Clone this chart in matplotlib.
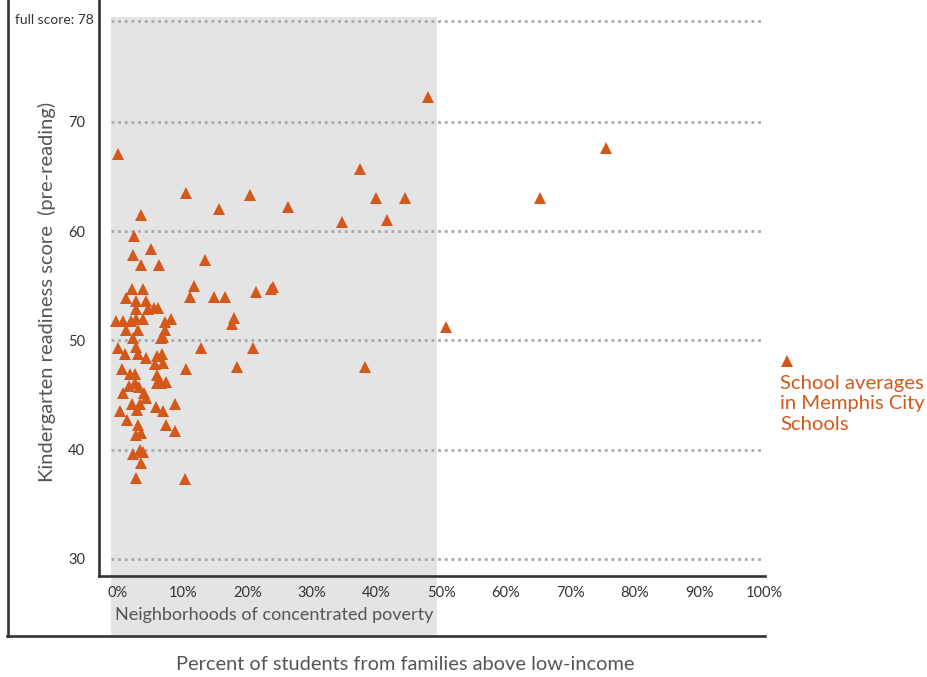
import matplotlib
matplotlib.use("Agg")
import matplotlib.pyplot as plt
from matplotlib.lines import Line2D
from matplotlib.patches import Rectangle
from matplotlib.transforms import blended_transform_factory

plt.rcParams['font.family'] = ['Lato', 'DejaVu Sans']

# ---- data (percent of students above low-income, readiness score) ----
pct_above_low_income = [
    0.0, 10.6, 20.4, 15.6, 26.3, 37.4, 39.9, 44.4, 34.6, 41.6,
    13.4, 11.7, 11.1, 14.8, 16.5, 21.3, 23.7, 24.0, 17.9, 17.6,
    50.8, 12.8, 20.9, 10.6, 18.4, 38.2, 8.9, 7.5, 8.9, 10.4,
    7.0, 8.2, 7.3, 7.3, 6.9, 6.8, 6.9, 7.5, 6.7,
    48.0, 65.3, 75.5,
    3.6, 2.5, 2.3, 5.1, 3.6, 6.4,
    2.2, 3.8, 1.3, 2.8, 4.4, 2.8, 4.7, 5.5, 6.2,
    -0.3, 0.8, 2.0, 2.8, 3.9, 1.3, 3.1, 2.3, 6.7,
    0.05, 2.8, 1.1, 3.1, 4.4, 6.1, 5.7,
    0.6, 1.9, 2.6, 6.1, 6.1, 1.7, 2.6, 3.3, 0.8, 4.0, 4.4,
    2.2, 3.4, 5.9, 0.3, 3.0, 1.4, 3.1, 2.8, 3.6,
    3.4, 3.9, 2.3, 3.6, 2.8,
]
readiness_score = [
    67.1, 63.5, 63.3, 62.0, 62.25, 65.7, 63.0, 63.0, 60.8, 61.06,
    57.4, 54.96, 53.98, 53.98, 53.98, 54.47, 54.7, 54.9, 52.03, 51.5,
    51.26, 49.34, 49.34, 47.4, 47.6, 47.6, 44.2, 42.3, 41.7, 37.35,
    43.5, 52.0, 51.7, 50.96, 50.35, 48.8, 47.9, 46.2, 46.1,
    72.3, 63.0, 67.6,
    61.5, 59.6, 57.8, 58.35, 56.9, 56.9,
    54.7, 54.7, 53.9, 53.6, 53.6, 52.9, 52.9, 53.0, 53.0,
    51.8, 51.8, 51.8, 52.0, 52.0, 51.0, 51.0, 50.2, 50.2,
    49.3, 49.4, 48.8, 48.8, 48.4, 48.6, 47.8,
    47.4, 46.9, 46.9, 46.8, 46.1, 45.8, 46.1, 45.7, 45.2, 45.2, 44.7,
    44.2, 44.2, 43.9, 43.5, 43.6, 42.7, 42.3, 41.35, 41.5,
    40.0, 39.8, 39.6, 38.8, 37.4,
]

x_ticks = [0, 10, 20, 30, 40, 50, 60, 70, 80, 90, 100]
x_tick_labels = ["0%", "10%", "20%", "30%", "40%", "50%", "60%", "70%", "80%", "90%", "100%"]
y_ticks = [30, 40, 50, 60, 70]
y_tick_labels = ["30", "40", "50", "60", "70"]
full_score_label = "full score: 78"
poverty_range = [-1.1, 49.4]
poverty_label = "Neighborhoods of concentrated poverty"
legend_label = "School averages\nin Memphis City\nSchools"

ORANGE = "#d4581a"
GRID = "#a9a9a9"
SHADE = "#e4e4e4"
DARK = "#333333"

W, H = 928, 677
fig = plt.figure(figsize=(W / 100, H / 100), dpi=100)
ax = fig.add_axes([99 / W, 1 - 576 / H, (765 - 99) / W, 576 / H])
ax.patch.set_alpha(0)
ax.set_xlim(-2.94, 100.15)
ax.set_ylim(28.44, 81.16)

# shaded poverty region (extends below axis to outer frame)
btf = blended_transform_factory(ax.transData, fig.transFigure)
ax.add_patch(Rectangle((poverty_range[0], 1 - 636 / H), poverty_range[1] - poverty_range[0],
                       (636 - 17) / H, transform=btf, facecolor=SHADE, edgecolor='none',
                       zorder=0, clip_on=False))

# gridlines
ax.hlines(y_ticks, poverty_range[0], 99.6, colors=GRID, linewidth=2.0,
          linestyles=(0, (1, 1.4)), zorder=1)
xat = ax.get_xaxis_transform()
full_y = 1 - 20.5 / 576
ax.plot([poverty_range[0], 99.6], [full_y, full_y], transform=xat, color=GRID,
        linewidth=2.0, linestyle=(0, (1, 1.4)), zorder=1)

# points
ax.plot(pct_above_low_income, readiness_score, linestyle='none', marker='^',
        markersize=8.6, color=ORANGE, markeredgewidth=0, zorder=3)

# spines / ticks
for s in ['top', 'right']:
    ax.spines[s].set_visible(False)
for s in ['left', 'bottom']:
    ax.spines[s].set_color(DARK)
    ax.spines[s].set_linewidth(1.9)
ax.set_xticks(x_ticks)
ax.set_xticklabels(x_tick_labels)
ax.set_yticks(y_ticks)
ax.set_yticklabels(y_tick_labels)
ax.tick_params(axis='both', length=0, labelsize=10.5, colors=DARK)
ax.tick_params(axis='x', pad=7)
ax.tick_params(axis='y', pad=10)

fig.text(94 / W, 1 - 20.5 / H, full_score_label, ha='right', va='center',
         fontsize=10, color=DARK)

# outer frame
fig.add_artist(Line2D([8 / W, 8 / W], [1 - 636 / H, 1.0], transform=fig.transFigure,
                      color=DARK, linewidth=1.9))
fig.add_artist(Line2D([7 / W, 765 / W], [1 - 636 / H, 1 - 636 / H], transform=fig.transFigure,
                      color=DARK, linewidth=1.9))

# labels
ax.text(sum(poverty_range) / 2, 1 - 615 / H, poverty_label, transform=btf,
        ha='center', va='center', fontsize=13, color="#555555")
fig.text(405 / W, 1 - 665 / H, "Percent of students from families above low-income",
         ha='center', va='center', fontsize=14.4, color="#555555")
fig.text(47 / W, 1 - 292 / H, "Kindergarten readiness score  (pre-reading)",
         rotation=90, ha='center', va='center', fontsize=14.5, color="#555555")

# legend
fig.add_artist(Line2D([787 / W], [1 - 361 / H], transform=fig.transFigure, marker='^',
                      markersize=8.6, color=ORANGE, markeredgewidth=0, linestyle='none'))
fig.text(780 / W, 1 - 375 / H, legend_label, ha='left', va='top', fontsize=14.6,
         color=ORANGE, linespacing=1.25)

fig.savefig("out.png", dpi=100)
